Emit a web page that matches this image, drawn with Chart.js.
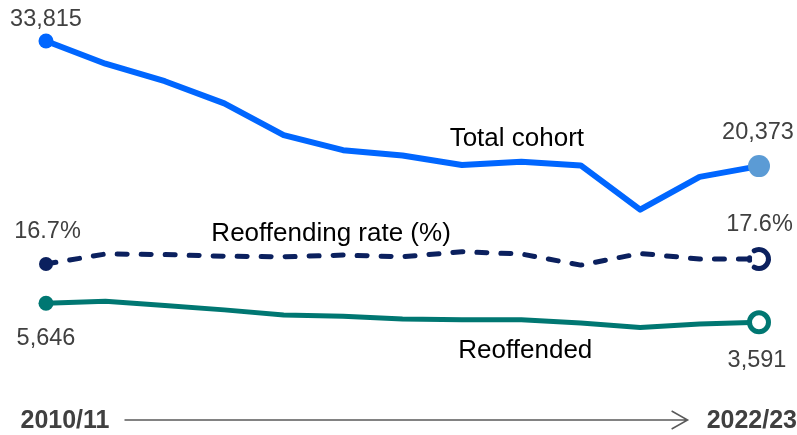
<!DOCTYPE html>
<html>
<head>
<meta charset="utf-8">
<script src="https://cdn.jsdelivr.net/npm/chart.js@4.4.1/dist/chart.umd.min.js"></script>
<style>
  html, body { margin: 0; padding: 0; background: #fff; }
  #wrap { width: 797px; height: 435px; }
</style>
</head>
<body>
<div id="wrap"><canvas id="myChart" width="797" height="435"></canvas></div>
<script>
const years = [
    '2010/11', '2011/12', '2012/13', '2013/14', '2014/15', '2015/16', '2016/17',
    '2017/18', '2018/19', '2019/20', '2020/21', '2021/22', '2022/23'
];
const totalCohort = [33815, 31370, 29490, 27110, 23700, 22080, 21510, 20490, 20840, 20450, 15700, 19220, 20373];
const reoffended = [5646, 5860, 5400, 4930, 4390, 4240, 3940, 3880, 3880, 3530, 3050, 3420, 3591];
const reoffendingRate = [16.7, 18.5, 18.4, 18.1, 18.0, 18.3, 18.0, 18.9, 18.5, 16.5, 18.6, 17.6, 17.6];

const BLUE = '#0066ff';
const LIGHT_BLUE = '#5b9bd5';
const NAVY = '#0b205e';
const TEAL = '#007772';
const GREY_TEXT = '#404040';
const FONT = '"Liberation Sans", Arial, sans-serif';
const last = years.length - 1;

// dashed open ring for the last rate point
function dashedRing() {
    const c = document.createElement('canvas');
    c.width = 32; c.height = 32;
    const g = c.getContext('2d');
    const r = 9.5, d = Math.PI / 180;
    g.beginPath();
    g.arc(16, 16, r, 0, Math.PI * 2);
    g.fillStyle = '#fff';
    g.fill();
    g.strokeStyle = NAVY;
    g.lineWidth = 5;
    g.lineCap = 'round';
    g.beginPath();
    g.arc(16, 16, r, -120 * d, 120 * d);
    g.stroke();
    g.beginPath();
    g.arc(16, 16, r, 172 * d, 188 * d);
    g.stroke();
    return c;
}
const ringImg = dashedRing();

const fmt = (v) => v.toLocaleString('en-GB');

// text labels anchored to data points
const labels = [
    { text: fmt(totalCohort[0]), ds: 0, i: 0, dx: 0, dy: -15, font: '23.5px', color: GREY_TEXT },
    { text: fmt(totalCohort[last]), ds: 0, i: last, dx: -1, dy: -27, font: '23.5px', color: GREY_TEXT },
    { text: 'Total cohort', ds: 0, i: 8, dx: -4.5, dy: -16, font: '26px', color: '#000' },
    { text: reoffendingRate[0].toFixed(1) + '%', ds: 1, i: 0, dx: 1.5, dy: -26, font: '23.5px', color: GREY_TEXT },
    { text: reoffendingRate[last].toFixed(1) + '%', ds: 1, i: last, dx: 0.5, dy: -28, font: '23.5px', color: GREY_TEXT },
    { text: 'Reoffending rate (%)', ds: 1, i: 5, dx: -12, dy: -14, font: '26px', color: '#000' },
    { text: fmt(reoffended[0]), ds: 2, i: 0, dx: 0, dy: 42, font: '23.5px', color: GREY_TEXT },
    { text: fmt(reoffended[last]), ds: 2, i: last, dx: -2, dy: 45, font: '23.5px', color: GREY_TEXT },
    { text: 'Reoffended', ds: 2, i: 8, dx: 4, dy: 38.5, font: '26px', color: '#000' }
];

const labelPlugin = {
    id: 'lineLabels',
    afterDatasetsDraw(chart) {
        const ctx = chart.ctx;
        ctx.save();
        ctx.textAlign = 'center';
        ctx.textBaseline = 'alphabetic';
        labels.forEach((l) => {
            const p = chart.getDatasetMeta(l.ds).data[l.i];
            ctx.font = l.font + ' ' + FONT;
            ctx.fillStyle = l.color;
            ctx.fillText(l.text, p.x + l.dx, p.y + l.dy);
        });

        // time arrow along the bottom
        const xs = chart.scales.x;
        const x0 = xs.getPixelForValue(0);
        const x1 = xs.getPixelForValue(last);
        const base = chart.chartArea.bottom + 28;
        ctx.font = 'bold 25px ' + FONT;
        ctx.fillStyle = GREY_TEXT;
        ctx.textAlign = 'left';
        const leftX = x0 - 25.5;
        ctx.fillText(years[0], leftX, base);
        const wL = ctx.measureText(years[0]).width;
        ctx.textAlign = 'right';
        const rightX = x1 + 38;
        ctx.fillText(years[last], rightX, base);
        const wR = ctx.measureText(years[last]).width;

        const ay = base - 8;
        const aStart = leftX + wL + 15;
        const aEnd = rightX - wR - 19;
        ctx.strokeStyle = '#595959';
        ctx.lineWidth = 1.5;
        ctx.beginPath();
        ctx.moveTo(aStart, ay);
        ctx.lineTo(aEnd, ay);
        ctx.moveTo(aEnd - 16, ay - 9);
        ctx.lineTo(aEnd, ay);
        ctx.lineTo(aEnd - 16, ay + 9);
        ctx.stroke();
        ctx.restore();
    }
};

const data = {
    labels: years,
    datasets: [
        {
            label: 'Total cohort',
            data: totalCohort,
            yAxisID: 'y',
            borderColor: BLUE,
            borderWidth: 6,
            borderJoinStyle: 'round',
            pointRadius: (c) => c.dataIndex === 0 ? 7.5 : (c.dataIndex === last ? 11 : 0),
            pointBackgroundColor: (c) => c.dataIndex === last ? LIGHT_BLUE : BLUE,
            pointBorderWidth: 0
        },
        {
            label: 'Reoffending rate (%)',
            data: reoffendingRate,
            yAxisID: 'y2',
            borderColor: NAVY,
            borderWidth: 5,
            borderDash: [10, 14],
            borderCapStyle: 'round',
            borderJoinStyle: 'round',
            pointRadius: (c) => c.dataIndex === 0 ? 7 : (c.dataIndex === last ? 11 : 0),
            pointStyle: (c) => c.dataIndex === last ? ringImg : 'circle',
            pointBackgroundColor: NAVY,
            pointBorderWidth: 0
        },
        {
            label: 'Reoffended',
            data: reoffended,
            yAxisID: 'y',
            borderColor: TEAL,
            borderWidth: 5,
            borderJoinStyle: 'round',
            pointRadius: (c) => c.dataIndex === 0 ? 7.5 : (c.dataIndex === last ? 9.5 : 0),
            pointBackgroundColor: (c) => c.dataIndex === last ? '#fff' : TEAL,
            pointBorderColor: TEAL,
            pointBorderWidth: (c) => c.dataIndex === last ? 5 : 0
        }
    ]
};

const config = {
    type: 'line',
    data: data,
    options: {
        responsive: false,
        animation: false,
        events: [],
        clip: false,
        layout: { autoPadding: false, padding: { left: 46, right: 38, top: 0, bottom: 35 } },
        plugins: {
            legend: { display: false },
            tooltip: { enabled: false }
        },
        scales: {
            x: { display: false, offset: false },
            y: { display: false, min: -4750, max: 38215 },
            y2: { display: false, min: -7.78, max: 64.22 }
        }
    },
    plugins: [labelPlugin]
};

const myChart = new Chart(document.getElementById('myChart'), config);
</script>
</body>
</html>
